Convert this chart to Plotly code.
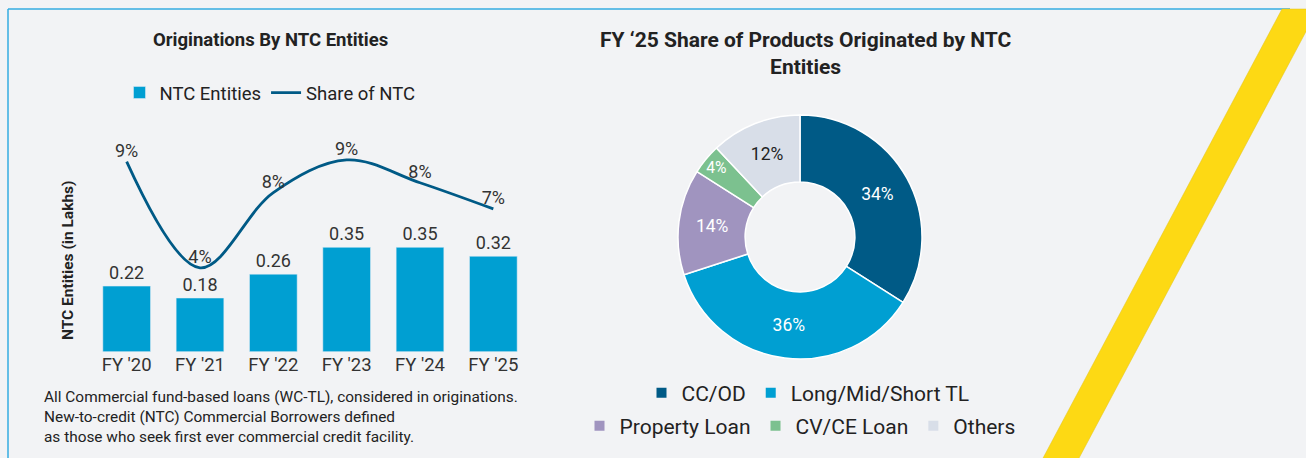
import plotly.graph_objects as go

# ---------------- data ----------------
years = ["FY '20", "FY '21", "FY '22", "FY '23", "FY '24", "FY '25"]
ntc_entities = [0.22, 0.18, 0.26, 0.35, 0.35, 0.32]          # in lakhs
share_of_ntc = [8.97, 4.1, 7.55, 9.05, 8.0, 6.8]            # percent

products = ["CC/OD", "Long/Mid/Short TL", "Property Loan", "CV/CE Loan", "Others"]
product_share = [34, 36, 14, 4, 12]                          # percent

# ---------------- styles ----------------
W, H = 1306, 458
BG = "#f2f3f5"
BAR_C = "#009fd2"
LINE_C = "#005a86"
PIE_C = ["#005a86", "#009fd2", "#a094bf", "#7cc18f", "#d8dee8"]
PIE_TXT = ["white", "white", "white", "white", "#222222"]
TXT = "#222222"
FONT = "Roboto"

def px(x):
    return x / W

def py(y):
    return 1 - y / H

fig = go.Figure()

fig.add_trace(go.Bar(
    x=years, y=ntc_entities, name="NTC Entities",
    marker=dict(color=BAR_C), width=0.65,
    text=[f"{v:.2f}" for v in ntc_entities], textposition="outside",
    textfont=dict(size=18, color="#333333", family=FONT),
    cliponaxis=False, legend="legend",
))
fig.add_trace(go.Scatter(
    x=years, y=share_of_ntc, name="Share of NTC", yaxis="y2",
    mode="lines+text", line=dict(color=LINE_C, width=2.8, shape="spline", smoothing=1.0),
    text=[f"{v:.0f}%" for v in share_of_ntc], textposition="top center",
    textfont=dict(size=18, color="#333333", family=FONT),
    cliponaxis=False, legend="legend",
))

fig.add_trace(go.Pie(
    labels=products, values=product_share, hole=0.45,
    sort=False, direction="clockwise", rotation=0,
    marker=dict(colors=PIE_C, line=dict(color="white", width=1.5)),
    texttemplate="%{value}%", textinfo="text",
    textposition="inside", insidetextorientation="horizontal",
    textfont=dict(size=17.5, color=PIE_TXT, family=FONT),
    domain=dict(x=[px(678), px(922)], y=[py(359), py(115)]),
    showlegend=False, hoverinfo="label+percent",
))

# legend entries for the donut (two rows)
for i, (name, col) in enumerate(zip(products, PIE_C)):
    fig.add_trace(go.Scatter(
        x=[None], y=[None], mode="markers", name=name,
        marker=dict(symbol="square", size=10, color=col),
        legend="legend2" if i < 2 else "legend3",
    ))

fig.update_layout(
    width=W, height=H,
    margin=dict(l=0, r=0, t=0, b=0),
    paper_bgcolor=BG, plot_bgcolor=BG,
    font=dict(family=FONT, color=TXT),
    bargap=0.35,
    xaxis=dict(domain=[px(90), px(530)], range=[-0.5, 5.5], showgrid=False,
               zeroline=False, showline=False, ticks="",
               tickfont=dict(size=18.5, color="#333333", family=FONT)),
    yaxis=dict(domain=[py(351.7), py(120)], range=[0, 0.777], visible=False,
               showgrid=False, zeroline=False),
    yaxis2=dict(overlaying="y", range=[0.25, 10.88], visible=False,
                showgrid=False, zeroline=False),
    legend=dict(orientation="h", x=px(270), y=py(93), xanchor="center", yanchor="middle",
                font=dict(size=18.5, color=TXT, family=FONT), bgcolor="rgba(0,0,0,0)",
                itemwidth=30, tracegroupgap=0),
    legend2=dict(orientation="h", x=px(808), y=py(393), xanchor="center", yanchor="middle",
                 font=dict(size=21, color=TXT, family=FONT), bgcolor="rgba(0,0,0,0)",
                 itemwidth=30),
    legend3=dict(orientation="h", x=px(800), y=py(426), xanchor="center", yanchor="middle",
                 font=dict(size=21, color=TXT, family=FONT), bgcolor="rgba(0,0,0,0)",
                 itemwidth=30),
    showlegend=True,
)

annotations = [
    dict(text="<b>Originations By NTC Entities</b>", x=px(270), y=py(40),
         font=dict(size=18.5, color=TXT, family=FONT)),
    dict(text="<b>FY \u201825 Share of Products Originated by NTC<br>Entities</b>",
         x=px(805), y=py(54), font=dict(size=21, color=TXT, family=FONT)),
    dict(text="<b>NTC Entities (in Lakhs)</b>", x=px(68), y=py(260), textangle=-90,
         font=dict(size=15.5, color=TXT, family=FONT)),
    dict(text="All Commercial fund-based loans (WC-TL), considered in originations.<br>"
              "New-to-credit (NTC) Commercial Borrowers defined<br>"
              "as those who seek first ever commercial credit facility.",
         x=px(42), y=py(386), xanchor="left", yanchor="top", align="left",
         font=dict(size=15.4, color=TXT, family=FONT)),
]
for a in annotations:
    a.setdefault("xanchor", "center")
    a.setdefault("yanchor", "middle")
    a.update(xref="paper", yref="paper", showarrow=False)
fig.update_layout(annotations=annotations)

# frame lines and yellow stripe
shapes = [
    dict(type="line", x0=px(8), x1=px(1290), y0=py(9), y1=py(9),
         line=dict(color="#35ade0", width=1.5)),
    dict(type="line", x0=px(8), x1=px(8), y0=py(9), y1=py(460),
         line=dict(color="#35ade0", width=1.5)),
    dict(type="path",
         path=f"M {px(1282)},{py(9)} L {px(1318)},{py(9)} L {px(1078)},{py(460)} L {px(1042)},{py(460)} Z",
         fillcolor="#fdd914", line=dict(color="#e2c21a", width=0.5)),
]
for s in shapes:
    s.update(xref="paper", yref="paper", layer="above")
fig.update_layout(shapes=shapes)

fig.write_html(
    "out.html",
    config={"displayModeBar": False},
    post_script=(
        "document.body.style.margin='0';"
        "document.body.style.overflow='hidden';"
        f"document.body.style.background='{BG}';"
    ),
)
